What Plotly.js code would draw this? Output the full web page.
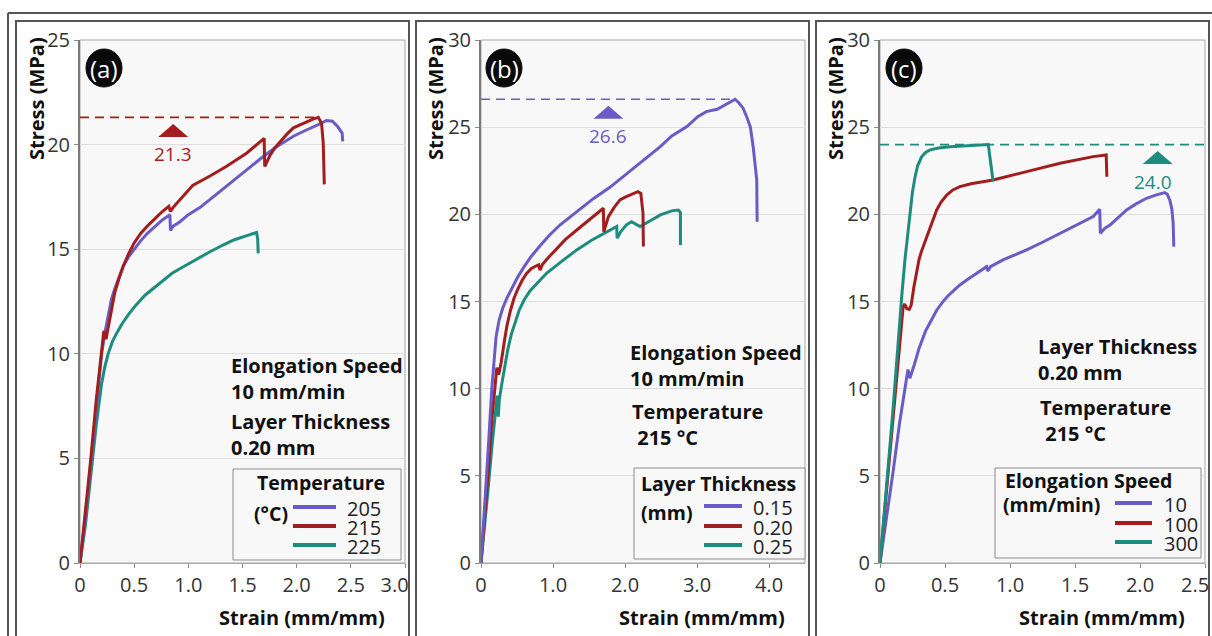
<!DOCTYPE html>
<html>
<head>
<meta charset="utf-8">
<script src="https://cdn.plot.ly/plotly-3.0.1.min.js"></script>
<style>
  html, body { margin: 0; padding: 0; background: #ffffff; }
  #chart { width: 1212px; height: 636px; }
</style>
</head>
<body>
<div id="chart"></div>
<script>
// ---------- Tensile test curves: stress (MPa) vs strain (mm/mm) ----------

// (a) Effect of printing temperature (10 mm/min, 0.20 mm layers)
const temperatureLabels = ['205', '215', '225'];
const strainA205 = [0, 0.05, 0.10, 0.15, 0.20, 0.23, 0.26, 0.29, 0.32, 0.36, 0.40, 0.45, 0.50, 0.56, 0.62, 0.69, 0.76, 0.83, 0.835, 0.86, 0.92, 1.00, 1.11, 1.23, 1.35, 1.50, 1.66, 1.80, 1.97, 2.07, 2.16, 2.22, 2.275, 2.33, 2.38, 2.42, 2.425];
const stressA205 = [0, 2.2, 4.8, 7.5, 10.0, 11.0, 11.9, 12.6, 13.1, 13.7, 14.2, 14.65, 15.0, 15.4, 15.75, 16.1, 16.4, 16.65, 15.9, 16.1, 16.3, 16.65, 17.0, 17.5, 18.0, 18.65, 19.3, 19.85, 20.4, 20.65, 20.85, 21.0, 21.15, 21.12, 20.85, 20.55, 20.15];
const strainA215 = [0, 0.05, 0.10, 0.15, 0.20, 0.22, 0.24, 0.26, 0.29, 0.32, 0.36, 0.40, 0.45, 0.50, 0.56, 0.62, 0.69, 0.76, 0.82, 0.835, 0.86, 0.95, 1.04, 1.20, 1.35, 1.54, 1.66, 1.70, 1.705, 1.73, 1.755, 1.80, 1.85, 1.91, 1.97, 2.03, 2.09, 2.15, 2.20, 2.23, 2.245, 2.255];
const stressA215 = [0, 2.4, 5.0, 7.8, 10.3, 11.1, 10.7, 11.3, 12.2, 12.9, 13.6, 14.2, 14.8, 15.3, 15.75, 16.1, 16.45, 16.8, 17.05, 16.8, 17.0, 17.5, 18.05, 18.5, 18.95, 19.6, 20.1, 20.3, 18.95, 19.2, 19.5, 19.85, 20.15, 20.5, 20.8, 20.95, 21.1, 21.22, 21.3, 21.0, 20.1, 18.1];
const strainA225 = [0, 0.05, 0.10, 0.15, 0.20, 0.23, 0.26, 0.30, 0.34, 0.39, 0.45, 0.52, 0.60, 0.68, 0.76, 0.85, 0.95, 1.05, 1.20, 1.32, 1.42, 1.54, 1.63, 1.64, 1.645];
const stressA225 = [0, 1.8, 4.2, 6.6, 8.6, 9.4, 10.0, 10.6, 11.0, 11.45, 11.9, 12.35, 12.8, 13.15, 13.5, 13.85, 14.15, 14.45, 14.88, 15.2, 15.44, 15.65, 15.8, 15.5, 14.8];

// (b) Effect of layer thickness (10 mm/min, 215 °C)
const thicknessLabels = ['0.15', '0.20', '0.25'];
const strainB015 = [0, 0.05, 0.10, 0.15, 0.18, 0.21, 0.25, 0.30, 0.36, 0.43, 0.51, 0.60, 0.70, 0.82, 0.95, 1.10, 1.25, 1.40, 1.56, 1.79, 2.02, 2.25, 2.49, 2.65, 2.86, 3.01, 3.13, 3.28, 3.41, 3.53, 3.58, 3.64, 3.69, 3.74, 3.78, 3.81, 3.83, 3.835];
const stressB015 = [0, 3.0, 6.5, 10.0, 11.8, 13.0, 13.9, 14.6, 15.2, 15.8, 16.4, 17.0, 17.6, 18.2, 18.8, 19.4, 19.9, 20.4, 20.9, 21.55, 22.3, 23.1, 23.88, 24.5, 25.03, 25.6, 25.89, 26.03, 26.33, 26.6, 26.4, 26.09, 25.6, 25.03, 23.88, 22.8, 21.97, 19.58];
const strainB020 = [0, 0.05, 0.10, 0.15, 0.20, 0.22, 0.245, 0.28, 0.32, 0.36, 0.41, 0.46, 0.51, 0.57, 0.63, 0.70, 0.77, 0.80, 0.82, 0.85, 0.92, 1.02, 1.17, 1.33, 1.53, 1.70, 1.705, 1.77, 1.85, 1.93, 2.01, 2.09, 2.18, 2.22, 2.25, 2.255];
const stressB020 = [0, 2.5, 5.2, 8.2, 10.6, 11.2, 10.8, 11.5, 12.6, 13.6, 14.5, 15.2, 15.7, 16.2, 16.6, 16.9, 17.05, 17.1, 16.8, 17.1, 17.45, 17.9, 18.55, 19.1, 19.8, 20.35, 19.0, 19.87, 20.4, 20.83, 21.0, 21.15, 21.3, 21.2, 20.06, 18.15];
const strainB025 = [0, 0.05, 0.10, 0.15, 0.20, 0.225, 0.24, 0.255, 0.29, 0.33, 0.37, 0.42, 0.47, 0.53, 0.60, 0.68, 0.77, 0.91, 1.12, 1.33, 1.53, 1.70, 1.885, 1.89, 1.94, 2.02, 2.09, 2.21, 2.30, 2.40, 2.49, 2.58, 2.65, 2.74, 2.77, 2.77];
const stressB025 = [0, 2.0, 4.3, 6.6, 8.6, 9.6, 8.4, 9.4, 10.3, 11.3, 12.2, 13.1, 13.8, 14.5, 15.1, 15.6, 16.0, 16.62, 17.3, 17.96, 18.5, 18.9, 19.3, 18.63, 19.0, 19.4, 19.58, 19.3, 19.49, 19.75, 19.97, 20.1, 20.2, 20.25, 20.1, 18.24];

// (c) Effect of elongation speed (0.20 mm layers, 215 °C)
const speedLabels = ['10', '100', '300'];
const strainC10 = [0, 0.05, 0.10, 0.15, 0.20, 0.215, 0.23, 0.25, 0.265, 0.30, 0.35, 0.40, 0.436, 0.48, 0.52, 0.57, 0.615, 0.67, 0.72, 0.77, 0.82, 0.83, 0.85, 0.95, 1.05, 1.128, 1.25, 1.385, 1.50, 1.64, 1.69, 1.695, 1.73, 1.77, 1.83, 1.897, 1.97, 2.05, 2.12, 2.19, 2.21, 2.23, 2.245, 2.255, 2.26];
const stressC10 = [0, 2.5, 5.2, 8.0, 10.4, 11.1, 10.6, 11.0, 11.4, 12.3, 13.3, 14.0, 14.5, 14.95, 15.3, 15.65, 15.95, 16.25, 16.5, 16.75, 17.0, 16.75, 17.0, 17.4, 17.7, 17.96, 18.4, 18.92, 19.35, 19.87, 20.29, 18.92, 19.2, 19.39, 19.8, 20.25, 20.6, 20.92, 21.1, 21.25, 21.15, 20.8, 20.3, 19.5, 18.15];
const strainC100 = [0, 0.05, 0.10, 0.15, 0.178, 0.19, 0.205, 0.225, 0.24, 0.26, 0.282, 0.30, 0.32, 0.36, 0.40, 0.436, 0.47, 0.513, 0.56, 0.615, 0.70, 0.87, 1.128, 1.385, 1.64, 1.74, 1.745];
const stressC100 = [0, 4.2, 8.3, 12.4, 14.7, 14.85, 14.6, 14.55, 14.8, 15.8, 16.81, 17.4, 17.9, 18.72, 19.6, 20.25, 20.7, 21.11, 21.4, 21.59, 21.75, 21.97, 22.45, 22.93, 23.31, 23.41, 22.16];
const strainC300 = [0, 0.05, 0.10, 0.13, 0.15, 0.167, 0.192, 0.23, 0.25, 0.27, 0.29, 0.32, 0.35, 0.385, 0.45, 0.538, 0.70, 0.833, 0.87];
const stressC300 = [0, 4.3, 8.8, 11.7, 13.8, 15.3, 17.4, 20.06, 21.3, 22.16, 22.8, 23.3, 23.55, 23.7, 23.8, 23.88, 23.96, 24.0, 21.88];

// Tick values and labels (the last labels sit a little inside the frame)
const NB = '\u00a0';
const xTicksA = [0, 0.5, 1.0, 1.5, 2.0, 2.5, 3.0];
const xTickTextA = ['0', '0.5', '1.0', '1.5', '2.0', '2.5', '3.0' + NB.repeat(4)];
const xTicksB = [0, 1, 2, 3, 4];
const xTickTextB = ['0', '1.0', '2.0', '3.0', '4.0'];
const xTicksC = [0, 0.5, 1.0, 1.5, 2.0, 2.5];
const xTickTextC = ['0', '0.5', '1.0', '1.5', '2.0', ''];
const lastTickC = '2.5';   // written just inside the right edge

// ---------- styling ----------
const PURPLE = '#6b5bc6';
const RED = '#a21d1d';
const TEAL = '#1c8c7c';
const W = 1212, H = 636;
const px = v => v / W;        // pixel column -> paper x
const py = v => 1 - v / H;    // pixel row -> paper y
const FONT = 'Open Sans, Liberation Sans, sans-serif';

function curve(x, y, color, xa, ya) {
  return { type: 'scatter', mode: 'lines', x: x, y: y, xaxis: xa, yaxis: ya,
           line: { color: color, width: 3 }, showlegend: false, hoverinfo: 'skip' };
}
function peakOf(x, y) {
  let i = 0;
  y.forEach((v, k) => { if (v > y[i]) i = k; });
  return { x: x[i], y: y[i] };
}
function dashed(x0, x1, yv, color, xa, ya) {
  return { type: 'scatter', mode: 'lines', x: [x0, x1], y: [yv, yv], xaxis: xa, yaxis: ya,
           line: { color: color, width: 1.6, dash: '9px,6px' }, showlegend: false, hoverinfo: 'skip' };
}

const peakA = peakOf(strainA215, stressA215);
const peakB = peakOf(strainB015, stressB015);
const peakC = peakOf(strainC300, stressC300);

const data = [
  dashed(0, peakA.x, peakA.y, RED, 'x', 'y'),
  curve(strainA225, stressA225, TEAL, 'x', 'y'),
  curve(strainA205, stressA205, PURPLE, 'x', 'y'),
  curve(strainA215, stressA215, RED, 'x', 'y'),

  dashed(0, peakB.x, peakB.y, PURPLE, 'x2', 'y2'),
  curve(strainB025, stressB025, TEAL, 'x2', 'y2'),
  curve(strainB020, stressB020, RED, 'x2', 'y2'),
  curve(strainB015, stressB015, PURPLE, 'x2', 'y2'),

  dashed(0, 2.5, peakC.y, TEAL, 'x3', 'y3'),
  curve(strainC10, stressC10, PURPLE, 'x3', 'y3'),
  curve(strainC100, stressC100, RED, 'x3', 'y3'),
  curve(strainC300, stressC300, TEAL, 'x3', 'y3')
];

// ---------- axes ----------
const tickFont = { family: FONT, size: 20, color: '#333333' };
function xAxis(domain, range, vals, text, anchor) {
  return { domain: domain, range: range, anchor: anchor, tickmode: 'array', tickvals: vals, ticktext: text,
           showgrid: false, zeroline: false, showline: true, linecolor: '#a8a8a8', linewidth: 1,
           ticks: 'outside', ticklen: 4, tickcolor: '#8a8a8a', tickfont: tickFont,
           ticklabeloverflow: 'allow', fixedrange: true };
}
function yAxis(range, anchor) {
  return { domain: [py(563), py(40)], range: range, anchor: anchor, dtick: 5, tick0: 0,
           showgrid: true, gridcolor: '#dddddd', gridwidth: 1, zeroline: false,
           showline: true, linecolor: '#7a7a7a', linewidth: 2,
           ticks: 'outside', ticklen: 4, tickcolor: '#8a8a8a', tickfont: tickFont, fixedrange: true };
}

// ---------- frames, markers, legends ----------
const shapes = [];
const annotations = [];

// outer frame and panel frames
const FRAME = '#555555';
shapes.push({ type: 'line', xref: 'paper', yref: 'paper', x0: px(8), x1: px(1212), y0: py(13), y1: py(13), line: { color: FRAME, width: 2 } });
shapes.push({ type: 'line', xref: 'paper', yref: 'paper', x0: px(8), x1: px(8), y0: py(13), y1: py(660), line: { color: FRAME, width: 2 } });
[[16, 409], [416, 809], [816, 1209]].forEach(([l, r]) => {
  shapes.push({ type: 'rect', xref: 'paper', yref: 'paper', x0: px(l), x1: px(r), y0: py(21), y1: py(660),
                line: { color: FRAME, width: 2 }, fillcolor: 'rgba(0,0,0,0)', layer: 'below' });
});

// plot-area boxes
['', '2', '3'].forEach(s => {
  shapes.push({ type: 'rect', xref: 'x' + s + ' domain', yref: 'y' + s + ' domain', x0: 0, x1: 1, y0: 0, y1: 1,
                line: { color: '#a8a8a8', width: 1 }, fillcolor: 'rgba(0,0,0,0)', layer: 'below' });
});

// last strain tick label of panel (c), kept inside the picture
annotations.push({ xref: 'x3', yref: 'paper', x: 2.5, xshift: -10, y: py(584), text: lastTickC, showarrow: false,
                   xanchor: 'center', yanchor: 'middle', font: tickFont });

// panel badges
[['(a)', 104], ['(b)', 504], ['(c)', 904]].forEach(([t, cx]) => {
  shapes.push({ type: 'circle', xref: 'paper', yref: 'paper', x0: px(cx - 18), x1: px(cx + 18), y0: py(49), y1: py(87),
                fillcolor: '#0a0a0a', line: { color: '#0a0a0a', width: 1 }, layer: 'above' });
  annotations.push({ xref: 'paper', yref: 'paper', x: px(cx), y: py(68.5), text: t, showarrow: false,
                     font: { family: FONT, size: 24, color: '#ffffff' }, xanchor: 'center', yanchor: 'middle' });
});

// peak markers: triangle + value label under the dashed line
function peakMarker(xa, ya, xPos, peak, color, labelDx) {
  shapes.push({ type: 'path', xref: xa, yref: ya, xsizemode: 'pixel', ysizemode: 'pixel',
                xanchor: xPos, yanchor: peak, path: 'M-15,-19.5 L15,-19.5 L0,-6.5 Z',
                fillcolor: color, line: { width: 0 }, layer: 'above' });
  annotations.push({ xref: xa, yref: ya, x: xPos, y: peak, yshift: -37, xshift: labelDx, text: peak.toFixed(1),
                     showarrow: false, xanchor: 'center', yanchor: 'middle',
                     font: { family: FONT, size: 19, color: color } });
}
peakMarker('x', 'y', 0.86, peakA.y, RED, 0);
peakMarker('x2', 'y2', 1.77, peakB.y, PURPLE, 0);
peakMarker('x3', 'y3', 2.136, peakC.y, TEAL, -5);

// axis titles
const titleFont = { family: FONT, size: 20, color: '#111111' };
[[36, 387], [435, 787], [835, 1187]].forEach(([yx, xr]) => {
  annotations.push({ xref: 'paper', yref: 'paper', x: px(yx), y: py(99), text: '<b>Stress (MPa)</b>', textangle: -90,
                     showarrow: false, xanchor: 'center', yanchor: 'middle', font: titleFont });
  annotations.push({ xref: 'paper', yref: 'paper', x: px(xr), y: py(617), text: '<b>Strain (mm/mm)</b>',
                     showarrow: false, xanchor: 'right', yanchor: 'middle', font: titleFont });
});

// test-condition notes (two lines each)
const noteFont = { family: FONT, size: 20, color: '#111111' };
function note(x, y, t) {
  annotations.push({ xref: 'paper', yref: 'paper', x: px(x), y: py(y), text: t, showarrow: false,
                     xanchor: 'left', yanchor: 'middle', align: 'left', font: noteFont });
}
note(229, 378.5, '<b>Elongation Speed</b><br><b>10 mm/min</b>');
note(229, 434.5, '<b>Layer Thickness</b><br><b>0.20 mm</b>');
note(628, 365, '<b>Elongation Speed</b><br><b>10 mm/min</b>');
note(630, 424, '<b>Temperature</b><br><b>' + NB + '215 °C</b>');
note(1036, 359.5, '<b>Layer Thickness</b><br><b>0.20 mm</b>');
note(1038, 420.5, '<b>Temperature</b><br><b>' + NB + '215 °C</b>');

// legends
function legendBlock(box, title, unit, titleX, unitX, titleY, unitY, lineX, rowsY, labelX, labels) {
  shapes.push({ type: 'rect', xref: 'paper', yref: 'paper', x0: px(box[0]), x1: px(box[2]), y0: py(box[1]), y1: py(box[3]),
                fillcolor: '#f8f8f8', line: { color: '#8c8c8c', width: 1 }, layer: 'above' });
  annotations.push({ xref: 'paper', yref: 'paper', x: px(titleX), y: py(titleY), text: '<b>' + title + '</b>',
                     showarrow: false, xanchor: 'left', yanchor: 'middle', font: { family: FONT, size: 19.5, color: '#111' } });
  annotations.push({ xref: 'paper', yref: 'paper', x: px(unitX), y: py(unitY), text: '<b>' + unit + '</b>',
                     showarrow: false, xanchor: 'left', yanchor: 'middle', font: { family: FONT, size: 19.5, color: '#111' } });
  [PURPLE, RED, TEAL].forEach((c, i) => {
    shapes.push({ type: 'line', xref: 'paper', yref: 'paper', x0: px(lineX[0]), x1: px(lineX[1]),
                  y0: py(rowsY[i]), y1: py(rowsY[i]), line: { color: c, width: 4 }, layer: 'above' });
    annotations.push({ xref: 'paper', yref: 'paper', x: px(labelX), y: py(rowsY[i] + 1), text: labels[i],
                       showarrow: false, xanchor: 'left', yanchor: 'middle', font: { family: FONT, size: 20, color: '#222' } });
  });
}
legendBlock([233, 469, 401, 560], 'Temperature', '(°C)', 255, 252, 482, 513, [293, 336], [507, 526, 545], 345, temperatureLabels);
legendBlock([634, 468, 805, 559], 'Layer Thickness', '(mm)', 639, 639, 483, 512, [704, 742], [506, 526, 545], 751, thicknessLabels);
legendBlock([995, 468, 1201, 558], 'Elongation Speed', '(mm/min)', 1003, 1001, 480, 504, [1115, 1152], [503, 523, 542], 1162, speedLabels);

const layout = {
  width: W, height: H,
  margin: { l: 0, r: 0, t: 0, b: 0, pad: 0 },
  paper_bgcolor: '#ffffff',
  plot_bgcolor: '#f8f8f8',
  showlegend: false,
  xaxis: xAxis([px(80), px(405)], [0, 3.0], xTicksA, xTickTextA, 'y'),
  yaxis: yAxis([0, 25], 'x'),
  xaxis2: xAxis([px(481), px(805)], [0, 4.5], xTicksB, xTickTextB, 'y2'),
  yaxis2: yAxis([0, 30], 'x2'),
  xaxis3: xAxis([px(880), px(1205)], [0, 2.5], xTicksC, xTickTextC, 'y3'),
  yaxis3: yAxis([0, 30], 'x3'),
  shapes: shapes,
  annotations: annotations
};

Plotly.newPlot('chart', data, layout, { displayModeBar: false, staticPlot: true });
</script>
</body>
</html>
